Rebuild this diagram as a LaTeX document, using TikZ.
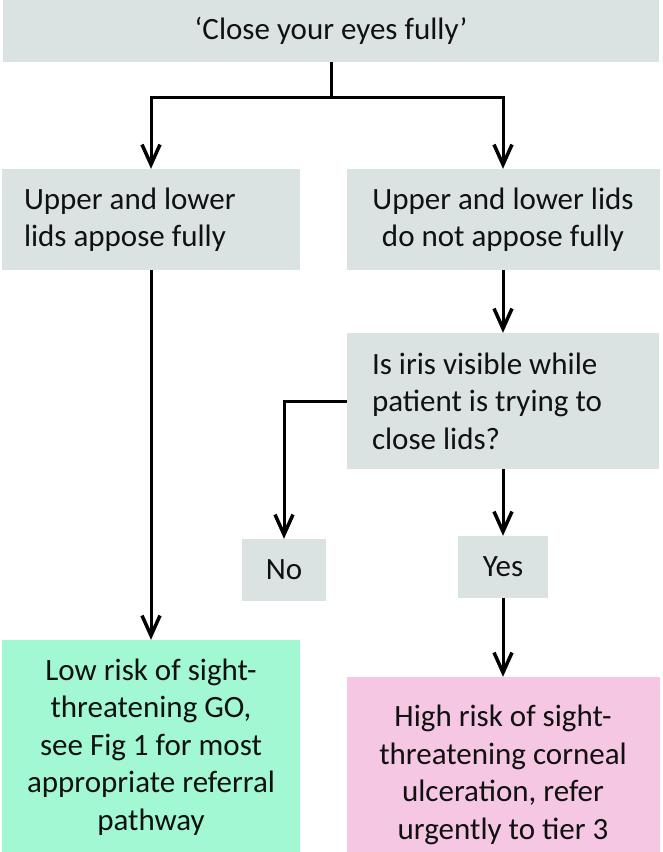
\documentclass[tikz,border=0pt]{standalone}
\usepackage{fontspec}
\setmainfont{Carlito}
\usetikzlibrary{arrows.meta}
\definecolor{boxgray}{HTML}{DAE3E2}
\definecolor{boxgreen}{HTML}{A2F8D3}
\definecolor{boxpink}{HTML}{F5C7E3}
\definecolor{ink}{HTML}{111111}
\begin{document}
\begin{tikzpicture}[x=1pt,y=-1pt,
  box/.style={fill=boxgray, inner sep=0pt, text=ink, font=\fontsize{31}{37.5}\selectfont},
  arr/.style={draw=black, line width=3pt, -{Straight Barb[length=20pt,width=18pt,line width=3.5pt]}}]
\useasboundingbox (0,0) rectangle (662,852);
\clip (0,0) rectangle (662,852);
\node[box, minimum width=656pt, minimum height=62pt] (top) at (331,31) {‘Close your eyes fully’};
\node[box, minimum height=101pt, inner xsep=22pt, text width=254pt, align=flush left] (L1) at (151,219.5) {Upper and lower\\lids appose fully};
\node[box, minimum width=313pt, minimum height=101pt, align=center] (R1) at (503,219.5) {Upper and lower lids\\do not appose fully};
\node[box, minimum height=136pt, inner xsep=25pt, text width=262pt, align=flush left] (Q) at (503,401) {Is iris visible while\\patient is trying to\\close lids?};
\node[box, minimum width=84pt, minimum height=62pt] (No) at (284,570) {No};
\node[box, minimum width=90pt, minimum height=62pt] (Yes) at (503,567) {Yes};
\node[box, fill=boxgreen, minimum width=298pt, minimum height=214pt, align=center] (G) at (151,747) {Low risk of sight-\\threatening GO,\\see Fig 1 for most\\appropriate referral\\pathway};
\node[box, fill=boxpink, minimum width=313pt, minimum height=196pt, align=center] (P) at (503,775) {High risk of sight-\\threatening corneal\\ulceration, refer\\urgently to tier 3};
\draw[arr] (top.south) -- ++(0,35) -| (L1.north);
\draw[arr] (top.south) -- ++(0,35) -| (R1.north);
\draw[arr] (R1.south) -- (Q.north);
\draw[arr] (Q.west) -| (No.north);
\draw[arr] (Q.south) -- (Yes.north);
\draw[arr] (Yes.south) -- (P.north);
\draw[arr] (L1.south) -- (G.north);
\end{tikzpicture}
\end{document}
